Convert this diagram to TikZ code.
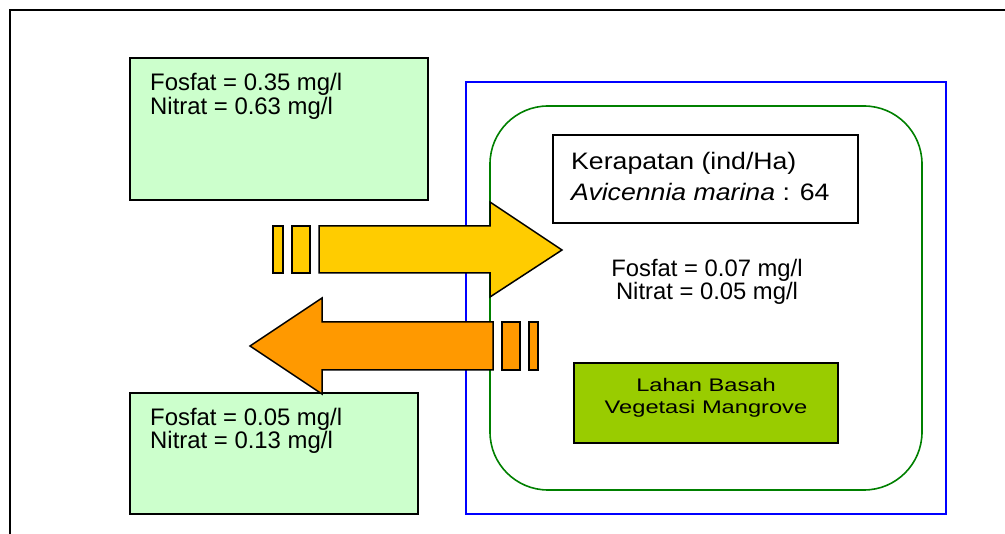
\documentclass[tikz,border=0pt]{standalone}
\usepackage{fontspec}
\setmainfont{Liberation Sans}
\newfontfamily\kerfont[FakeStretch=1.12]{Liberation Sans}
\newfontfamily\lahanfont[FakeStretch=1.3]{Liberation Sans}
\definecolor{paleg}{HTML}{CCFFCC}
\definecolor{arryel}{HTML}{FFCC00}
\definecolor{arrora}{HTML}{FF9900}
\definecolor{lahang}{HTML}{99CC00}
\definecolor{zoneg}{HTML}{008000}
\begin{document}
\begin{tikzpicture}[x=1pt,y=-1pt,
  infobox/.style={draw=black,line width=1.5pt,fill=paleg},
  arrowshape/.style={draw=black,line width=1.5pt,line join=miter},
  txt/.style={inner sep=0pt,font=\fontsize{23.9}{23.9}\selectfont},
  midtxt/.style={inner sep=0pt,font=\fontsize{23.8}{23.8}\selectfont},
  kertxt/.style={inner sep=0pt,font=\kerfont\fontsize{23.8}{23.8}\selectfont},
  lahtxt/.style={inner sep=0pt,font=\lahanfont\fontsize{18.2}{18.2}\selectfont}]
\useasboundingbox (0,0) rectangle (1005,534);
\fill[white] (0,0) rectangle (1005,534);
% outer frame
\coordinate (fa) at (10,540);
\coordinate (fb) at (10,10);
\coordinate (fc) at (1010,10);
\draw[line width=2pt] (fa) -- (fb) -- (fc);
% info boxes
\draw[infobox] (130,58) rectangle (428,200);
\draw[infobox] (130,393) rectangle (418,514);
% zone
\draw[blue,line width=2pt] (466,82) rectangle (946,514);
\draw[zoneg,line width=1.6pt,rounded corners=58pt] (490,106) rectangle (922,490);
% Kerapatan box
\draw[green,line width=1pt] (553,224) -- (859,224);
\draw[black,fill=white,line width=1.5pt] (553,135) rectangle (858,223);
\node[kertxt,anchor=base west] (k1) at (571,169.3) {Kerapatan (ind/Ha)};
\node[kertxt,anchor=base west] (k2) at (571,200.5) {\itshape Avicennia marina\upshape\ : 64};
% middle text
\node[midtxt,anchor=base] (m1) at (707,277) {Fosfat = 0.07 mg/l};
\node[midtxt,anchor=base] (m2) at (707,300) {Nitrat = 0.05 mg/l};
% Lahan box
\draw[black,fill=lahang,line width=1.5pt] (574,363) rectangle (838,443);
\node[lahtxt,anchor=base] (l1) at (706,391.7) {Lahan Basah};
\node[lahtxt,anchor=base] (l2) at (706,413.5) {Vegetasi Mangrove};
% texts in info boxes
\node[txt,anchor=base west] (t1) at (150,91) {Fosfat = 0.35 mg/l};
\node[txt,anchor=base west] (t2) at (150,114.3) {Nitrat = 0.63 mg/l};
\node[txt,anchor=base west] (b1) at (150,426) {Fosfat = 0.05 mg/l};
\node[txt,anchor=base west] (b2) at (150,449) {Nitrat = 0.13 mg/l};
% yellow arrow (inflow)
\draw[arrowshape,fill=arryel] (273,226) rectangle (283,273);
\draw[arrowshape,fill=arryel] (292,226) rectangle (310,273);
\draw[arrowshape,fill=arryel] (319,226) -- (490,226) -- (490,202) -- (562,250) -- (490,297) -- (490,273) -- (319,273) -- cycle;
% orange arrow (outflow)
\draw[arrowshape,fill=arrora] (502,322) rectangle (520,370);
\draw[arrowshape,fill=arrora] (529,322) rectangle (538,370);
\draw[arrowshape,fill=arrora] (493,322) -- (322,322) -- (322,298) -- (250,346) -- (322,394) -- (322,370) -- (493,370) -- cycle;
\end{tikzpicture}
\end{document}
